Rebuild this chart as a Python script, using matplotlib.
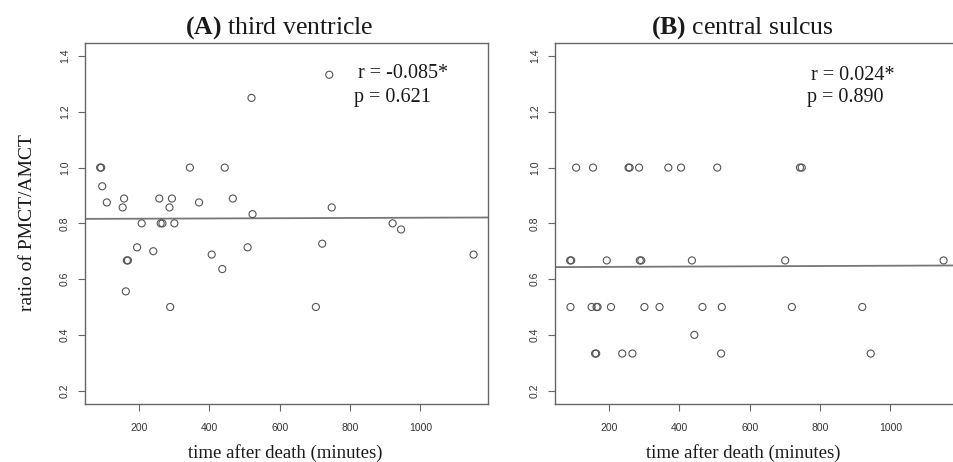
import matplotlib
matplotlib.use("Agg")
import matplotlib.pyplot as plt
import numpy as np

# ---- data ----
time_a = [90, 93, 96, 109, 154, 158, 166, 169, 163, 195, 208, 241, 258, 262, 267,
          287, 294, 301, 289, 345, 371, 407, 437, 444, 467, 509, 520, 523, 741,
          748, 721, 703, 921, 945, 1151]
ratio_a = [1.0, 1.0, 0.933, 0.875, 0.857, 0.889, 0.667, 0.667, 0.556, 0.714, 0.8,
           0.7, 0.889, 0.8, 0.8, 0.857, 0.889, 0.8, 0.5, 1.0, 0.875, 0.688, 0.636,
           1.0, 0.889, 0.714, 1.25, 0.833, 1.333, 0.857, 0.727, 0.5, 0.8, 0.778,
           0.688]

time_b = [90, 93, 194, 288, 292, 436, 701, 1151,
          107, 155, 256, 259, 286, 369, 405, 508, 743, 748,
          91, 151, 165, 168, 206, 301, 344, 466, 521, 720, 920,
          443,
          161, 164, 238, 267, 519, 944]
ratio_b = [0.667, 0.667, 0.667, 0.667, 0.667, 0.667, 0.667, 0.667,
           1.0, 1.0, 1.0, 1.0, 1.0, 1.0, 1.0, 1.0, 1.0, 1.0,
           0.5, 0.5, 0.5, 0.5, 0.5, 0.5, 0.5, 0.5, 0.5, 0.5, 0.5,
           0.4,
           0.333, 0.333, 0.333, 0.333, 0.333, 0.333]

# regression lines (intercept, slope)
fit_a = (0.8158, 0.0000044)
fit_b = (0.6428, 0.0000052)

titles = [("(A)", "third ventricle"), ("(B)", "central sulcus")]
stats = [("r = -0.085*", "p = 0.621"), ("r = 0.024*", "p = 0.890")]
xticks = [200, 400, 600, 800, 1000]
yticks = [0.2, 0.4, 0.6, 0.8, 1.0, 1.2, 1.4]
xlabel = "time after death (minutes)"
ylabel = "ratio of PMCT/AMCT"

plt.rcParams['mathtext.fontset'] = 'custom'
plt.rcParams['mathtext.rm'] = 'Liberation Serif'
plt.rcParams['mathtext.bf'] = 'Liberation Serif:bold'

W, H = 954, 462
fig = plt.figure(figsize=(W / 100, H / 100), dpi=100)

frame_col = '#666666'
pt_col = '#555555'
txt_col = '#1a1a1a'

xlim = (47, 1192)
ylim = (0.152, 1.448)

ax_rects = [
    (85 / W, 1 - 404 / H, 403 / W, (404 - 42.7) / H),
    (555 / W, 1 - 404 / H, 403 / W, (404 - 42.7) / H),
]
title_x = [279, 742]
xlabel_x = [285, 743]
stat_pos = [(358, 74, 354, 97.7), (811, 76, 807, 97.7)]

datasets = [(time_a, ratio_a, fit_a), (time_b, ratio_b, fit_b)]

for i, rect in enumerate(ax_rects):
    ax = fig.add_axes(rect)
    t, r, fit = datasets[i]
    ax.scatter(t, r, s=26, facecolors='none', edgecolors=pt_col, linewidths=0.8, zorder=3)
    xs = np.array(xlim, dtype=float)
    ax.plot(xs, fit[0] + fit[1] * xs, color='#777777', lw=1.3, zorder=2)
    ax.set_xlim(*xlim)
    ax.set_ylim(*ylim)
    ax.set_xticks(xticks)
    ax.set_xticklabels([str(v) for v in xticks], family='Liberation Sans', fontsize=7.5, color='#333333')
    ax.set_yticks(yticks)
    ax.set_yticklabels([f"{v:.1f}" for v in yticks], family='Liberation Sans', fontsize=7.5,
                       color='#333333', rotation=90, va='center')
    ax.tick_params(axis='both', direction='out', length=5, width=0.8, color=frame_col, pad=9)
    ax.tick_params(axis='y', pad=6)
    for sp in ax.spines.values():
        sp.set_color(frame_col)
        sp.set_linewidth(1.0)

    bold, rest = titles[i]
    fig.text(title_x[i] / W, 1 - 28 / H, r"$\mathbf{" + bold + "}$ " + rest,
             family='Liberation Serif', fontsize=18.5, color=txt_col,
             ha='center', va='center')
    fig.text(xlabel_x[i] / W, 1 - 453 / H, xlabel, family='Liberation Serif',
             fontsize=13.5, color=txt_col, ha='center', va='center')
    rx, ry, px, py = stat_pos[i]
    fig.text(rx / W, 1 - ry / H, stats[i][0], family='Liberation Serif', fontsize=14.5,
             color=txt_col, ha='left', va='center')
    fig.text(px / W, 1 - py / H, stats[i][1], family='Liberation Serif', fontsize=14.5,
             color=txt_col, ha='left', va='center')

fig.text(28 / W, 1 - 223 / H, ylabel, family='Liberation Serif', fontsize=14,
         color=txt_col, rotation=90, ha='center', va='center')

fig.savefig("out.png", dpi=100)
